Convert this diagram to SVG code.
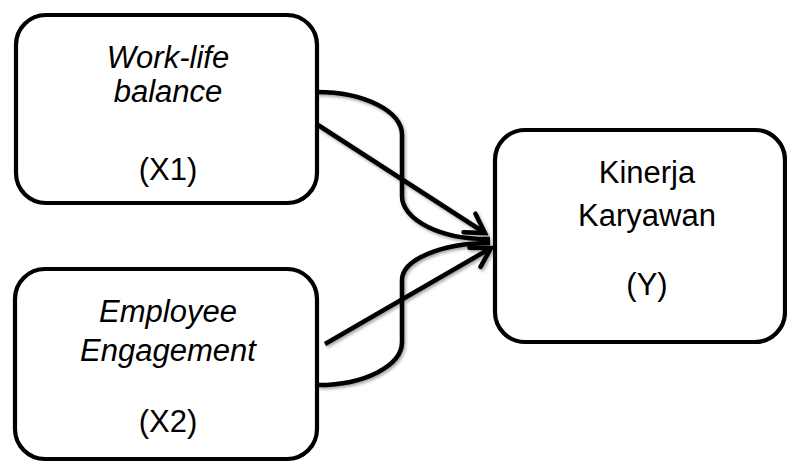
<svg xmlns="http://www.w3.org/2000/svg" width="787" height="463" viewBox="0 0 787 463">
  <style>
    .box { fill: #ffffff; stroke: #000000; stroke-width: 4.2; }
    .lbl { font-family: "Liberation Sans", Arial, sans-serif; font-size: 31px; fill: #000000; text-anchor: middle; }
    .it { font-style: italic; }
    .conn { fill: none; stroke: #000000; stroke-width: 4.5; }
  </style>
  <defs>
    <filter id="sh" x="-10%" y="-10%" width="120%" height="120%">
      <feDropShadow dx="1.5" dy="2" stdDeviation="1.5" flood-color="#000000" flood-opacity="0.35"/>
    </filter>
    <marker id="arr" markerUnits="userSpaceOnUse" markerWidth="30" markerHeight="30" viewBox="-24 -15 30 30" refX="0" refY="0" orient="auto">
      <path d="M -18.5 -11 L 0 0 L -18.5 11" fill="none" stroke="#000000" stroke-width="4.5" stroke-linecap="round" stroke-linejoin="miter"/>
    </marker>
  </defs>

  <g id="connectors" filter="url(#sh)">
    <path class="conn" d="M 317 92 A 85 43 0 0 1 402 135 L 402 196 A 85 43 0 0 0 490 239"/>
    <path class="conn" d="M 318 385 A 84 43 0 0 0 402 342 L 402 280 A 88 37 0 0 1 490 243"/>
    <path class="conn" d="M 318 125 L 485 233" marker-end="url(#arr)"/>
    <path class="conn" d="M 325 344 L 491 248" marker-end="url(#arr)"/>
  </g>

  <g id="node-x1">
    <rect class="box" x="16" y="15" width="301" height="188" rx="30" ry="30"/>
    <text class="lbl it" x="168" y="68">Work-life</text>
    <text class="lbl it" x="168" y="102">balance</text>
    <text class="lbl" x="168" y="180">(X1)</text>
  </g>

  <g id="node-x2">
    <rect class="box" x="15" y="269" width="302" height="190" rx="30" ry="30"/>
    <text class="lbl it" x="168" y="322">Employee</text>
    <text class="lbl it" x="168" y="361">Engagement</text>
    <text class="lbl" x="168" y="432">(X2)</text>
  </g>

  <g id="node-y">
    <rect class="box" x="495" y="130" width="290" height="212" rx="30" ry="30"/>
    <text class="lbl" x="647" y="183">Kinerja</text>
    <text class="lbl" x="647" y="226">Karyawan</text>
    <text class="lbl" x="647" y="295">(Y)</text>
  </g>
</svg>
